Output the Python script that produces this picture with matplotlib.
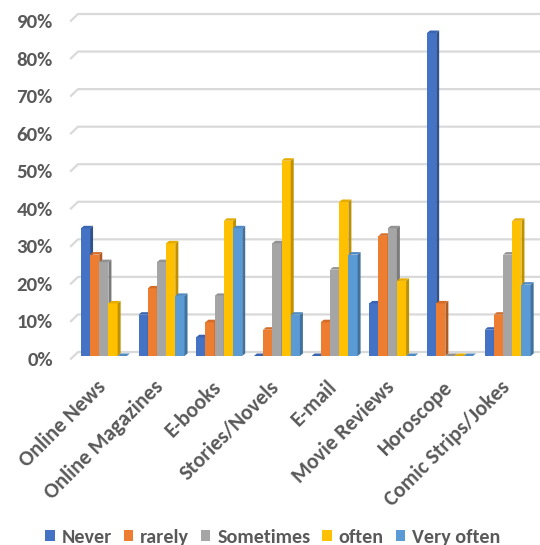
import numpy as np
import matplotlib
matplotlib.use('Agg')

import matplotlib.pyplot as plt
from matplotlib.patches import Polygon
from matplotlib.transforms import blended_transform_factory, ScaledTranslation


categories = ['Online News', 'Online Magazines', 'E-books', 'Stories/Novels',
              'E-mail', 'Movie Reviews', 'Horoscope', 'Comic Strips/Jokes']
series_names = ['Never', 'rarely', 'Sometimes', 'often', 'Very often']
never = [34, 11, 5, 0, 0, 14, 86, 7]
rarely = [27, 18, 9, 7, 9, 32, 14, 11]
sometimes = [25, 25, 16, 30, 23, 34, 0, 27]
often = [14, 30, 36, 52, 41, 20, 0, 36]
very_often = [0, 16, 34, 11, 27, 0, 0, 19]
y_ticks = [0, 10, 20, 30, 40, 50, 60, 70, 80, 90]

FRONT = ['#4472C4', '#ED7D31', '#A5A5A5', '#FFC000', '#5B9BD5']
SIDE = ['#2F528F', '#AE5A21', '#7B7B7B', '#BF9000', '#41719C']
TOP = ['#3B64B0', '#D46C28', '#929292', '#E5AC00', '#4F8AC2']
TEXT = '#595959'
GRID = '#D9D9D9'

plt.rcParams['font.family'] = ['Carlito', 'DejaVu Sans']
plt.rcParams['font.weight'] = 'bold'

W, H = 540, 545
fig = plt.figure(figsize=(W / 100, H / 100), dpi=100)
ax_l, ax_b, ax_w, ax_h = 75 / W, 1 - 356 / H, 461.5 / W, 338 / H
ax = fig.add_axes([ax_l, ax_b, ax_w, ax_h])
ax.set_xlim(-0.5, len(categories) - 0.5)
ax.set_ylim(0, 90)

# pixel -> data / axes units
px_x = len(categories) / (ax_w * W)
px_ax = 1 / (ax_w * W)
px_y = 90 / (ax_h * H)

# back-wall gridlines with little 3D floor stubs
gtrans = blended_transform_factory(ax.transAxes, ax.transData)
for v in y_ticks:
    ax.plot([-4 * px_ax, 3 * px_ax, 1.01], [v - 2.7 * px_y, v + 4 * px_y, v + 4 * px_y],
            transform=gtrans, color=GRID, lw=1.6, clip_on=False, zorder=1)

series = [never, rarely, sometimes, often, very_often]
bw = 9.2 / 57.7
dx = 3 * px_x
dy = 2.5 * px_y
x = np.arange(len(categories))
handles = []
for i, vals in enumerate(series):
    xs = x + (i - 2) * bw
    z = 3 + i
    h = ax.bar(xs, vals, bw, color=FRONT[i], linewidth=0, zorder=z, label=series_names[i])
    handles.append(h)
    for xc, v in zip(xs, vals):
        xl, xr = xc - bw / 2, xc + bw / 2
        side = Polygon([(xr, 0), (xr + dx, dy), (xr + dx, v + dy), (xr, v)],
                       closed=True, facecolor=SIDE[i], edgecolor='none', zorder=z)
        top = Polygon([(xl, v), (xl + dx, v + dy), (xr + dx, v + dy), (xr, v)],
                      closed=True, facecolor=TOP[i], edgecolor='none', zorder=z)
        ax.add_patch(side)
        ax.add_patch(top)

for s in ax.spines.values():
    s.set_visible(False)
ax.set_yticks(y_ticks)
ax.set_yticklabels(['%d%%' % t for t in y_ticks])
ax.set_xticks(x)
ax.set_xticklabels(categories, rotation=45, ha='right', rotation_mode='anchor')
ax.tick_params(axis='y', length=0, pad=16, labelsize=15, labelcolor=TEXT)
ax.tick_params(axis='x', length=0, pad=15, labelsize=15.5, labelcolor=TEXT)

# Excel puts the labels a touch lower / further left than matplotlib does
for lbl in ax.get_xticklabels():
    lbl.set_transform(lbl.get_transform() + ScaledTranslation(-0.08, 0, fig.dpi_scale_trans))
for lbl in ax.get_yticklabels():
    lbl.set_transform(lbl.get_transform() + ScaledTranslation(0, -0.03, fig.dpi_scale_trans))

fig.legend(handles, series_names, loc='lower center', bbox_to_anchor=(0.505, -0.035),
           ncol=5, frameon=False, handlelength=0.46, handleheight=0.46,
           handletextpad=0.34, columnspacing=0.6,
           prop={'size': 14.5, 'weight': 'bold'}, labelcolor=TEXT)

fig.savefig('out.png', dpi=100)
